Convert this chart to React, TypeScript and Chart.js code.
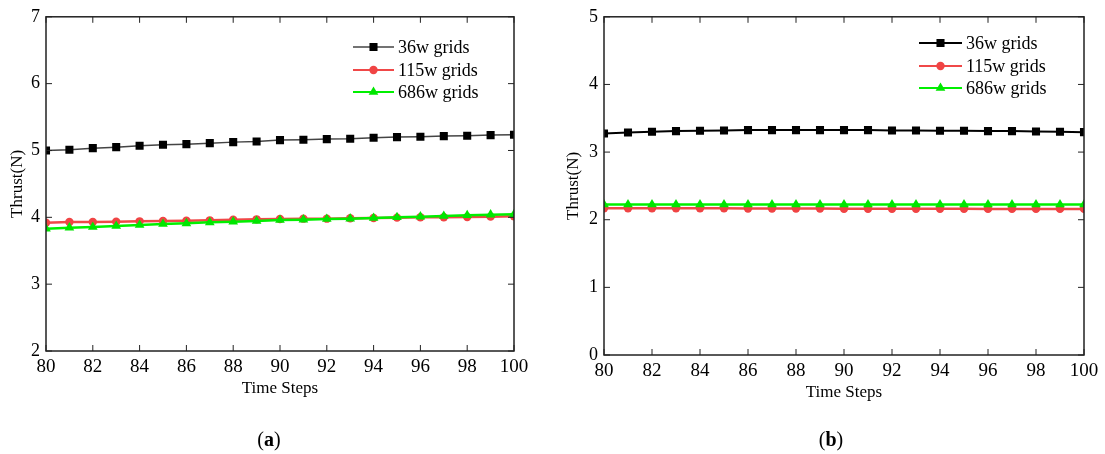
import React, { useEffect, useRef } from "react";
import { Chart, registerables } from "chart.js";

Chart.register(...registerables);

const timeSteps = [80, 81, 82, 83, 84, 85, 86, 87, 88, 89, 90, 91, 92, 93, 94, 95, 96, 97, 98, 99, 100];
const seriesNames = ["36w grids", "115w grids", "686w grids"];

// Panel (a)
const a36w = [5.0, 5.01, 5.035, 5.05, 5.07, 5.085, 5.095, 5.11, 5.125, 5.135, 5.155, 5.16, 5.17, 5.175, 5.19, 5.2, 5.205, 5.215, 5.22, 5.23, 5.235];
const a115w = [3.92, 3.929, 3.929, 3.935, 3.94, 3.945, 3.95, 3.955, 3.965, 3.97, 3.975, 3.98, 3.98, 3.985, 3.99, 3.995, 4.0, 4.0, 4.005, 4.01, 4.015];
const a686w = [3.83, 3.845, 3.855, 3.87, 3.885, 3.9, 3.91, 3.925, 3.935, 3.945, 3.96, 3.965, 3.975, 3.98, 3.99, 4.0, 4.01, 4.02, 4.03, 4.04, 4.045];

// Panel (b)
const b36w = [3.275, 3.29, 3.3, 3.31, 3.315, 3.32, 3.325, 3.325, 3.325, 3.325, 3.325, 3.325, 3.32, 3.32, 3.315, 3.315, 3.31, 3.31, 3.305, 3.3, 3.295];
const b115w = [2.17, 2.17, 2.17, 2.17, 2.168, 2.168, 2.165, 2.165, 2.165, 2.165, 2.163, 2.163, 2.163, 2.162, 2.162, 2.162, 2.16, 2.16, 2.16, 2.16, 2.16];
const b686w = [2.225, 2.225, 2.225, 2.225, 2.225, 2.225, 2.225, 2.225, 2.225, 2.225, 2.225, 2.225, 2.225, 2.225, 2.225, 2.225, 2.225, 2.225, 2.225, 2.225, 2.225];

const xTicks = [80, 82, 84, 86, 88, 90, 92, 94, 96, 98, 100];
const yTicksA = [2, 3, 4, 5, 6, 7];
const yTicksB = [0, 1, 2, 3, 4, 5];

const SERIF = "'Liberation Serif', 'Times New Roman', serif";

function drawMarker(ctx: CanvasRenderingContext2D, style: string, x: number, y: number, r: number, color: string) {
  ctx.save();
  ctx.fillStyle = color;
  ctx.beginPath();
  if (style === "rect") {
    const s = Math.SQRT1_2 * r;
    ctx.rect(x - s, y - s, 2 * s, 2 * s);
  } else if (style === "circle") {
    ctx.arc(x, y, r, 0, Math.PI * 2);
  } else {
    const h = r * 1.5;
    const side = r * 3 / Math.sqrt(3);
    ctx.moveTo(x, y - (2 / 3) * h);
    ctx.lineTo(x + side / 2, y + h / 3);
    ctx.lineTo(x - side / 2, y + h / 3);
    ctx.closePath();
  }
  ctx.fill();
  ctx.restore();
}

const framePlugin = {
  id: "frameLegend",
  afterDraw(chart: any, _args: any, opts: any) {
    const { ctx, chartArea } = chart;
    const { left, right, top, bottom } = chartArea;
    const xs = chart.scales.x;
    const ys = chart.scales.y;
    ctx.save();
    ctx.strokeStyle = "#222";
    ctx.lineWidth = 1.5;
    ctx.strokeRect(left, top, right - left, bottom - top);
    ctx.lineWidth = 1;
    const tl = 6;
    ctx.beginPath();
    (opts.xTicks as number[]).forEach((v) => {
      const px = xs.getPixelForValue(v);
      ctx.moveTo(px, bottom);
      ctx.lineTo(px, bottom - tl);
      ctx.moveTo(px, top);
      ctx.lineTo(px, top + tl);
    });
    (opts.yTicks as number[]).forEach((v) => {
      const py = ys.getPixelForValue(v);
      ctx.moveTo(left, py);
      ctx.lineTo(left + tl, py);
      ctx.moveTo(right, py);
      ctx.lineTo(right - tl, py);
    });
    ctx.stroke();

    // legend
    const lg = opts.legend;
    chart.data.datasets.forEach((ds: any, i: number) => {
      const y = lg.ys[i];
      ctx.strokeStyle = ds.borderColor;
      ctx.lineWidth = Math.min(ds.borderWidth, 2);
      ctx.beginPath();
      ctx.moveTo(lg.x0, y);
      ctx.lineTo(lg.x1, y);
      ctx.stroke();
      drawMarker(ctx, ds.pointStyle, (lg.x0 + lg.x1) / 2, y, ds.pointRadius, ds.pointBackgroundColor);
      ctx.fillStyle = "#000";
      ctx.font = `18px ${SERIF}`;
      ctx.textBaseline = "middle";
      ctx.textAlign = "left";
      ctx.fillText(ds.label, lg.tx, y + 1);
    });
    ctx.restore();
  },
};

function makeDatasets(d36: number[], d115: number[], d686: number[], blackColor: string, blackWidth: number) {
  const toPts = (arr: number[]) => arr.map((v, i) => ({ x: timeSteps[i], y: v }));
  return [
    {
      label: seriesNames[0],
      data: toPts(d36),
      borderColor: blackColor,
      borderWidth: blackWidth,
      pointStyle: "rect",
      pointRadius: 5.7,
      pointBackgroundColor: "#000",
      pointBorderColor: "#000",
      pointBorderWidth: 0,
      clip: 0,
      order: 0,
    },
    {
      label: seriesNames[1],
      data: toPts(d115),
      borderColor: "#f04848",
      borderWidth: 2.5,
      pointStyle: "circle",
      pointRadius: 4.2,
      pointBackgroundColor: "#f04444",
      pointBorderColor: "#f04444",
      pointBorderWidth: 0,
      clip: 0,
      order: 2,
    },
    {
      label: seriesNames[2],
      data: toPts(d686),
      borderColor: "#00f000",
      borderWidth: 2.5,
      pointStyle: "triangle",
      pointRadius: 5.6,
      pointBackgroundColor: "#00e600",
      pointBorderColor: "#00e600",
      pointBorderWidth: 0,
      clip: 0,
      order: 1,
    },
  ];
}

type PanelCfg = {
  width: number;
  datasets: any[];
  yMin: number;
  yMax: number;
  yTicks: number[];
  padding: { left: number; right: number; top: number; bottom: number };
  yWidth: number;
  xHeight: number;
  yTitlePad: number;
  xTitlePad: number;
  legend: { x0: number; x1: number; tx: number; ys: number[] };
};

function Panel({ cfg }: { cfg: PanelCfg }) {
  const ref = useRef<HTMLCanvasElement | null>(null);
  useEffect(() => {
    if (!ref.current) return;
    const chart = new Chart(ref.current, {
      type: "line",
      data: { datasets: cfg.datasets },
      plugins: [framePlugin as any],
      options: {
        responsive: false,
        animation: false,
        layout: { padding: cfg.padding },
        plugins: {
          legend: { display: false },
          tooltip: { enabled: false },
          frameLegend: { xTicks, yTicks: cfg.yTicks, legend: cfg.legend },
        } as any,
        scales: {
          x: {
            type: "linear",
            min: 80,
            max: 100,
            grid: { display: false, drawTicks: false },
            border: { display: false },
            ticks: {
              stepSize: 2,
              color: "#000",
              padding: 5,
              maxRotation: 0,
              font: { family: SERIF, size: 19 },
            },
            title: {
              display: true,
              text: "Time Steps",
              color: "#000",
              font: { family: SERIF, size: 17 },
              padding: { top: 0, bottom: cfg.xTitlePad },
            },
            afterFit: (s: any) => {
              s.height = cfg.xHeight;
            },
          },
          y: {
            type: "linear",
            min: cfg.yMin,
            max: cfg.yMax,
            grid: { display: false, drawTicks: false },
            border: { display: false },
            ticks: {
              stepSize: 1,
              color: "#000",
              padding: 6,
              font: { family: SERIF, size: 18 },
            },
            title: {
              display: true,
              text: "Thrust(N)",
              color: "#000",
              font: { family: SERIF, size: 17 },
              padding: { top: cfg.yTitlePad, bottom: 0 },
            },
            afterFit: (s: any) => {
              s.width = cfg.yWidth;
            },
          },
        },
      } as any,
    });
    return () => chart.destroy();
  }, [cfg]);
  return <canvas ref={ref} width={cfg.width} height={454} style={{ width: cfg.width, height: 454, display: "block" }} />;
}

const panelA: PanelCfg = {
  width: 552,
  datasets: makeDatasets(a36w, a115w, a686w, "#444", 1.5),
  yMin: 2,
  yMax: 7,
  yTicks: yTicksA,
  padding: { left: 0, right: 38, top: 16, bottom: 0 },
  yWidth: 46,
  xHeight: 103,
  yTitlePad: 7,
  xTitlePad: 55,
  legend: { x0: 353, x1: 394, tx: 398, ys: [47, 70, 92] },
};

const panelB: PanelCfg = {
  width: 553,
  datasets: makeDatasets(b36w, b115w, b686w, "#000", 2),
  yMin: 0,
  yMax: 5,
  yTicks: yTicksB,
  padding: { left: 0, right: 21, top: 13, bottom: 0 },
  yWidth: 52,
  xHeight: 99,
  yTitlePad: 11,
  xTitlePad: 51,
  legend: { x0: 367, x1: 410, tx: 414, ys: [43, 66, 88] },
};

const captionStyle: React.CSSProperties = {
  position: "absolute",
  top: 428,
  fontFamily: SERIF,
  fontSize: 20,
  lineHeight: "22px",
  color: "#000",
  textAlign: "center",
  width: 60,
};

export default function App() {
  return (
    <div style={{ position: "absolute", left: 0, top: 0, width: 1105, height: 454, background: "#fff", overflow: "hidden" }}>
      <div style={{ position: "absolute", left: 0, top: 0 }}>
        <Panel cfg={panelA} />
      </div>
      <div style={{ position: "absolute", left: 552, top: 0 }}>
        <Panel cfg={panelB} />
      </div>
      <div style={{ ...captionStyle, left: 269 - 30 }}>
        (<b>a</b>)
      </div>
      <div style={{ ...captionStyle, left: 831 - 30 }}>
        (<b>b</b>)
      </div>
    </div>
  );
}
